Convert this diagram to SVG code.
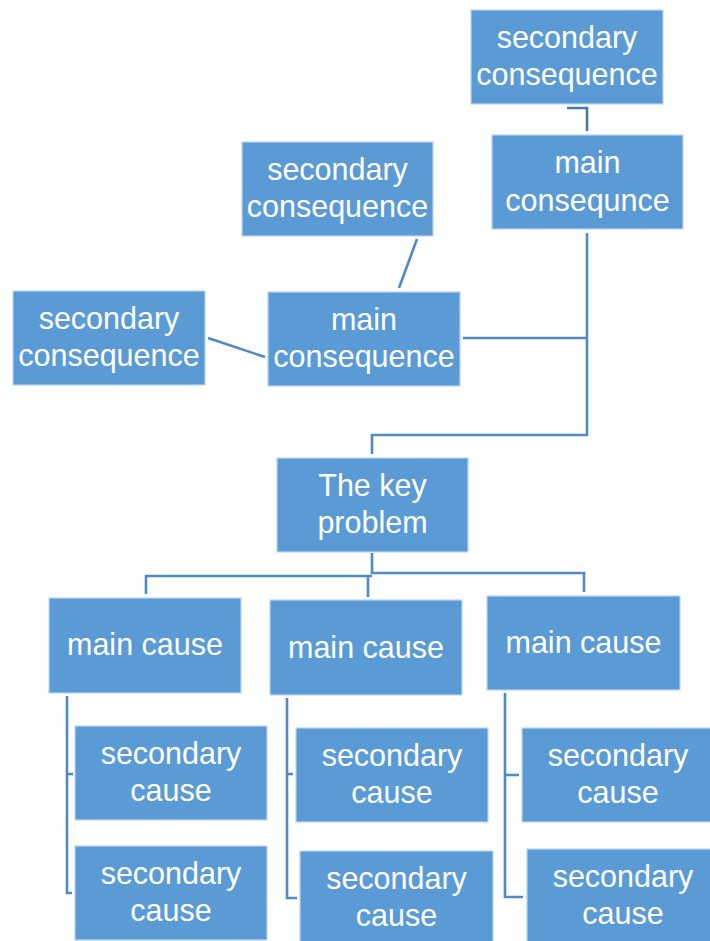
<svg xmlns="http://www.w3.org/2000/svg" width="710" height="941" viewBox="0 0 710 941">
<style>
.box{fill:#5b9bd5;stroke:#bcd4ee;stroke-width:1.2}
.t{font-family:"Liberation Sans",Arial,sans-serif;font-size:30.5px;fill:#ffffff;text-anchor:middle}
.c{fill:none;stroke:#4f89c6;stroke-width:2.6}
.cd{fill:none;stroke:#4a78a8;stroke-width:2.6}
</style>
<rect width="710" height="941" fill="#ffffff"/>
<g id="connectors">
<polyline class="cd" points="567,108 587,108 587,131"/>
<line class="c" x1="417" y1="239" x2="399" y2="288"/>
<line class="c" x1="208" y1="338" x2="265" y2="357"/>
<polyline class="c" points="463,338 587,338"/>
<polyline class="c" points="587,233 587,435 372,435 372,454"/>
<polyline class="c" points="372,553 372,573 584,573 584,592"/>
<polyline class="c" points="372,576 146,576 146,594"/>
<polyline class="c" points="368,576 368,597"/>
<polyline class="c" points="73,774 67,774"/>
<polyline class="c" points="67,696 67,893 72,893"/>
<polyline class="c" points="293,774 287,774"/>
<polyline class="c" points="287,698 287,898 297,898"/>
<polyline class="c" points="519,775 505,775"/>
<polyline class="c" points="505,693 505,897 523,897"/>
</g>
<g id="sec-cons-top"><rect class="box" x="471" y="10" width="192" height="94"/><text class="t" x="567" y="48">secondary<tspan x="567" dy="37">consequence</tspan></text></g>
<g id="main-cons-right"><rect class="box" x="492" y="135" width="191" height="94"/><text class="t" x="587.5" y="173">main<tspan x="587.5" dy="38">consequnce</tspan></text></g>
<g id="sec-cons-mid"><rect class="box" x="242" y="142" width="191" height="94"/><text class="t" x="337.5" y="180">secondary<tspan x="337.5" dy="37">consequence</tspan></text></g>
<g id="sec-cons-left"><rect class="box" x="13" y="291" width="192" height="94"/><text class="t" x="109" y="329">secondary<tspan x="109" dy="37">consequence</tspan></text></g>
<g id="main-cons-left"><rect class="box" x="268" y="292" width="192" height="94"/><text class="t" x="364" y="330">main<tspan x="364" dy="37">consequence</tspan></text></g>
<g id="key-problem"><rect class="box" x="277" y="458" width="191" height="94"/><text class="t" x="372.5" y="496">The key<tspan x="372.5" dy="37">problem</tspan></text></g>
<g id="main-cause-1"><rect class="box" x="49" y="598" width="192" height="95"/><text class="t" x="145" y="655">main cause</text></g>
<g id="main-cause-2"><rect class="box" x="270" y="600" width="192" height="95"/><text class="t" x="366" y="658">main cause</text></g>
<g id="main-cause-3"><rect class="box" x="487" y="596" width="193" height="94"/><text class="t" x="583.5" y="653">main cause</text></g>
<g id="sec-cause-1a"><rect class="box" x="75" y="726" width="192" height="94"/><text class="t" x="171" y="764">secondary<tspan x="171" dy="37">cause</tspan></text></g>
<g id="sec-cause-1b"><rect class="box" x="75" y="846" width="192" height="94"/><text class="t" x="171" y="884">secondary<tspan x="171" dy="37">cause</tspan></text></g>
<g id="sec-cause-2a"><rect class="box" x="296" y="728" width="192" height="94"/><text class="t" x="392" y="766">secondary<tspan x="392" dy="37">cause</tspan></text></g>
<g id="sec-cause-2b"><rect class="box" x="300" y="851" width="193" height="94"/><text class="t" x="396.5" y="889">secondary<tspan x="396.5" dy="37">cause</tspan></text></g>
<g id="sec-cause-3a"><rect class="box" x="522" y="728" width="192" height="94"/><text class="t" x="618" y="766">secondary<tspan x="618" dy="37">cause</tspan></text></g>
<g id="sec-cause-3b"><rect class="box" x="527" y="849" width="192" height="94"/><text class="t" x="623" y="887">secondary<tspan x="623" dy="37">cause</tspan></text></g>
</svg>
